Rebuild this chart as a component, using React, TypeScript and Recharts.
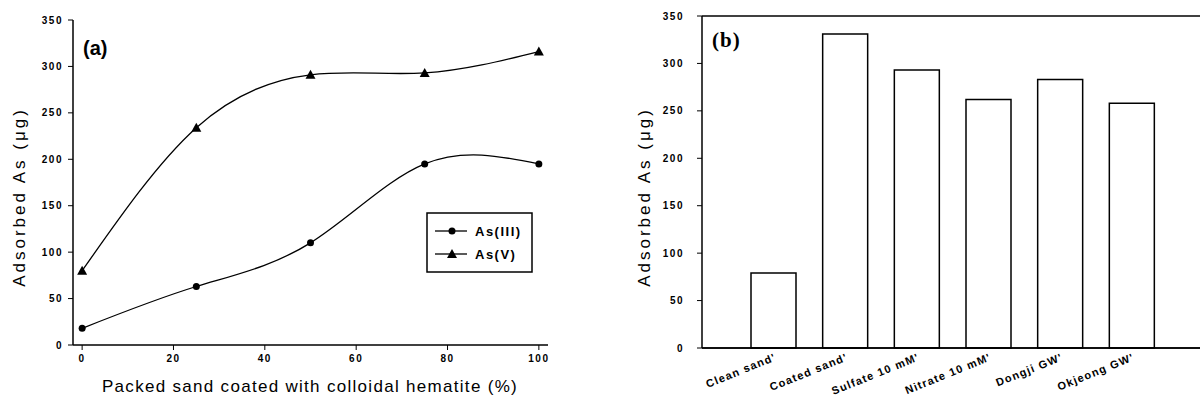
import React from "react";
import { LineChart, Line, BarChart, Bar, XAxis, YAxis, ReferenceLine } from "recharts";

// panel (a): adsorbed As vs. fraction of coated sand
const coating = [0, 25, 50, 75, 100];
const asIII = [18, 63, 110, 195, 195];
const asV = [80, 234, 291, 293, 316];
const coatingTicks = [0, 20, 40, 60, 80, 100];
const asTicks = [0, 50, 100, 150, 200, 250, 300, 350];

// panel (b): adsorbed As(V) under different conditions
const conditions = ["Clean sand'", "Coated sand'", "Sulfate 10 mM'", "Nitrate 10 mM'", "Dongji GW'", "Okjeong GW'"];
const adsorbed = [79, 331, 293, 262, 283, 258];

const lineData = coating.map((c, i) => ({ coating: c, asIII: asIII[i], asV: asV[i] }));
const barData = conditions.map((name, i) => ({ name, value: adsorbed[i] }));

const FONT = "Arial, 'Liberation Sans', sans-serif";
const axisLine = { stroke: "#000", strokeWidth: 1.5 };
const tickText = { fill: "#000", fontSize: 10, fontWeight: "bold", letterSpacing: 1.5, fontFamily: FONT };

const CircleDot = (props: any) => {
  const { cx, cy } = props;
  if (cx == null || cy == null) return null;
  return <circle cx={cx} cy={cy} r={3.5} fill="#000" />;
};

const TriangleDot = (props: any) => {
  const { cx, cy } = props;
  if (cx == null || cy == null) return null;
  return <path d={`M${cx},${cy - 5} L${cx + 5},${cy + 4} L${cx - 5},${cy + 4} Z`} fill="#000" />;
};

const SlantTick = (props: any) => {
  const { x, y, payload } = props;
  return (
    <text
      x={x + 3}
      y={y + 4}
      transform={`rotate(-22, ${x + 3}, ${y + 4})`}
      textAnchor="end"
      fontSize={11}
      fontWeight="bold"
      letterSpacing={1.2}
      fontFamily={FONT}
      fill="#000"
    >
      {payload.value}
    </text>
  );
};

export default function App() {
  return (
    <div style={{ position: "fixed", left: 0, top: 0, width: 1200, height: 401, background: "#fff", overflow: "hidden", fontFamily: FONT }}>
      <style>{"html, body { margin: 0; overflow: hidden; }"}</style>
      <div style={{ position: "absolute", left: 0, top: 0 }}>
        <LineChart width={560} height={401} data={lineData} margin={{ top: 20, right: 12, bottom: 26, left: 33 }}>
          <XAxis
            dataKey="coating"
            type="number"
            domain={[-2, 102]}
            ticks={coatingTicks}
            allowDataOverflow
            height={30}
            tickSize={5}
            tickMargin={5}
            tick={tickText}
            axisLine={axisLine}
            tickLine={{ stroke: "#000" }}
          />
          <XAxis
            xAxisId="top"
            orientation="top"
            dataKey="coating"
            type="number"
            domain={[-2, 102]}
            height={0}
            tick={false}
            tickLine={false}
            axisLine={axisLine}
          />
          <YAxis
            domain={[0, 350]}
            ticks={asTicks}
            width={40}
            tickSize={5}
            tickMargin={5}
            tick={tickText}
            axisLine={axisLine}
            tickLine={{ stroke: "#000" }}
          />
          <YAxis
            yAxisId="right"
            orientation="right"
            domain={[0, 350]}
            width={0}
            tick={false}
            tickLine={false}
            axisLine={axisLine}
          />
          <Line dataKey="asIII" name="As(III)" type="natural" stroke="#000" strokeWidth={1.3} dot={<CircleDot />} isAnimationActive={false} />
          <Line dataKey="asV" name="As(V)" type="natural" stroke="#000" strokeWidth={1.3} dot={<TriangleDot />} isAnimationActive={false} />
        </LineChart>
      </div>

      <div style={{ position: "absolute", left: 600, top: 0, width: 640 }}>
        <BarChart width={640} height={401} data={barData} margin={{ top: 16, right: 0, bottom: 13, left: 42 }}>
          <XAxis
            dataKey="name"
            padding={{ left: 36, right: 72 }}
            height={40}
            interval={0}
            tickSize={6}
            tickMargin={2}
            tick={<SlantTick />}
            tickLine={false}
            axisLine={axisLine}
          />
          <YAxis
            domain={[0, 350]}
            ticks={asTicks}
            width={60}
            tickSize={5}
            tickMargin={13}
            tick={tickText}
            axisLine={axisLine}
            tickLine={{ stroke: "#000" }}
          />
          {/* frame lines running to the page edge */}
          <ReferenceLine y={350} stroke="#000" strokeWidth={1.5} />
          <ReferenceLine y={0} stroke="#000" strokeWidth={1.5} />
          <Bar dataKey="value" fill="#fff" stroke="#000" strokeWidth={1.5} barSize={45} isAnimationActive={false} />
        </BarChart>
      </div>

      <svg width={1200} height={401} style={{ position: "absolute", left: 0, top: 0, pointerEvents: "none" }}>
        <text x={83} y={55} fontSize={20} fontWeight="bold" fontFamily={FONT}>(a)</text>
        <text x={712} y={47} fontSize={21} fontWeight="bold" letterSpacing={1} fontFamily="'Liberation Serif', 'DejaVu Serif', serif">(b)</text>

        <text x={25} y={197} transform="rotate(-90, 25, 197)" textAnchor="middle" fontSize={17} letterSpacing={3} fontFamily={FONT}>Adsorbed As (μg)</text>
        <text x={650} y={197} transform="rotate(-90, 650, 197)" textAnchor="middle" fontSize={17} letterSpacing={3} fontFamily={FONT}>Adsorbed As (μg)</text>
        <text x={310} y={392} textAnchor="middle" fontSize={17} letterSpacing={1.3} fontFamily={FONT}>Packed sand coated with colloidal hematite (%)</text>

        <rect x={427} y={213} width={105} height={59} fill="#fff" stroke="#000" strokeWidth={1.5} />
        <line x1={435} x2={467} y1={231} y2={231} stroke="#000" strokeWidth={1.3} />
        <circle cx={452} cy={231} r={3.5} fill="#000" />
        <text x={475} y={236} fontSize={13} fontWeight="bold" letterSpacing={1.5} fontFamily={FONT}>As(III)</text>
        <line x1={435} x2={467} y1={254} y2={254} stroke="#000" strokeWidth={1.3} />
        <path d="M452,249 L457,258 L447,258 Z" fill="#000" />
        <text x={475} y={259} fontSize={13} fontWeight="bold" letterSpacing={1.5} fontFamily={FONT}>As(V)</text>
      </svg>
    </div>
  );
}
